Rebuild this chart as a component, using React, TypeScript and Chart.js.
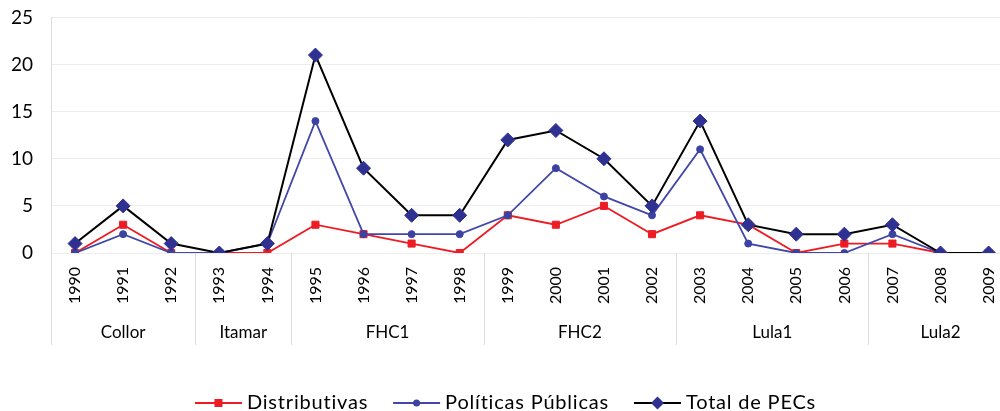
import React, { useEffect, useRef } from "react";
import { Chart, registerables } from "chart.js";

Chart.register(...registerables);

const years = [
  "1990", "1991", "1992", "1993", "1994", "1995", "1996", "1997", "1998", "1999",
  "2000", "2001", "2002", "2003", "2004", "2005", "2006", "2007", "2008", "2009",
];
const distributivas = [0, 3, 0, 0, 0, 3, 2, 1, 0, 4, 3, 5, 2, 4, 3, 0, 1, 1, 0, 0];
const politicasPublicas = [0, 2, 0, 0, 1, 14, 2, 2, 2, 4, 9, 6, 4, 11, 1, 0, 0, 2, 0, 0];
const totalPECs = [1, 5, 1, 0, 1, 21, 9, 4, 4, 12, 13, 10, 5, 14, 3, 2, 2, 3, 0, 0];
const governments = ["Collor", "Itamar", "FHC1", "FHC2", "Lula1", "Lula2"];
const governmentSpans = [3, 2, 4, 4, 4, 3];
const yTicks = [0, 5, 10, 15, 20, 25];

const FONT = "Lato";
const RED = "#ED1C24";
const BLUE = "#4148A8";
const BLUE_MARK = "#3A42A2";
const NAVY = "#2E3192";
const GRID = "#EDEDED";
const SEP = "#DCDCDC";
const CANVAS_W = 1022;
const SHIFT = 12;
const CANVAS_H = 411 + SHIFT;

const groupPlugin = {
  id: "groupPlugin",
  afterDraw(chart: any) {
    const ctx = chart.ctx;
    const x = chart.scales.x;
    const area = chart.chartArea;
    const bottomY = 345 + SHIFT;
    ctx.save();
    ctx.strokeStyle = SEP;
    ctx.lineWidth = 1;
    ctx.beginPath();
    ctx.moveTo(Math.round(area.left) + 0.5, area.top);
    ctx.lineTo(Math.round(area.left) + 0.5, bottomY);
    ctx.stroke();
    let idx = 0;
    ctx.font = `17px ${FONT}`;
    ctx.fillStyle = "#000";
    ctx.textAlign = "center";
    ctx.textBaseline = "middle";
    governments.forEach((g, gi) => {
      const first = idx;
      const last = idx + governmentSpans[gi] - 1;
      const cx = (x.getPixelForValue(first) + x.getPixelForValue(last)) / 2;
      ctx.fillText(g, cx, 333 + SHIFT);
      if (gi < governments.length - 1) {
        const sx = (x.getPixelForValue(last) + x.getPixelForValue(last + 1)) / 2;
        ctx.beginPath();
        ctx.moveTo(Math.round(sx) + 0.5, area.bottom);
        ctx.lineTo(Math.round(sx) + 0.5, bottomY);
        ctx.stroke();
      }
      idx = last + 1;
    });
    ctx.restore();
  },
};

const legendPlugin = {
  id: "customLegend",
  afterDraw(chart: any) {
    const ctx = chart.ctx;
    const ds = chart.data.datasets;
    const lineLen = 47;
    const textGap = 5;
    const itemGap = 25;
    const y = 403 + SHIFT;
    const centerX = 505.5;
    ctx.save();
    ctx.font = `20px ${FONT}`;
    (ctx as any).letterSpacing = "0.8px";
    const widths = ds.map((d: any) => ctx.measureText(d.label).width);
    const total =
      widths.reduce((a: number, b: number) => a + b, 0) +
      ds.length * (lineLen + textGap) +
      (ds.length - 1) * itemGap;
    let cx = centerX - total / 2;
    ds.forEach((d: any, i: number) => {
      ctx.strokeStyle = d.borderColor;
      ctx.lineWidth = 2;
      ctx.beginPath();
      ctx.moveTo(cx, y);
      ctx.lineTo(cx + lineLen, y);
      ctx.stroke();
      const mx = cx + lineLen / 2;
      ctx.fillStyle = d.pointBackgroundColor;
      if (d.pointStyle === "rect") {
        ctx.fillRect(mx - 4, y - 4, 8, 8);
      } else if (d.pointStyle === "circle") {
        ctx.beginPath();
        ctx.arc(mx, y, 3.5, 0, Math.PI * 2);
        ctx.fill();
      } else {
        ctx.beginPath();
        ctx.moveTo(mx, y - 6.5);
        ctx.lineTo(mx + 6.5, y);
        ctx.lineTo(mx, y + 6.5);
        ctx.lineTo(mx - 6.5, y);
        ctx.closePath();
        ctx.fill();
      }
      ctx.fillStyle = "#000";
      ctx.textAlign = "left";
      ctx.textBaseline = "middle";
      ctx.fillText(d.label, cx + lineLen + textGap, y);
      cx += lineLen + textGap + widths[i] + itemGap;
    });
    ctx.restore();
  },
};

export default function App() {
  const ref = useRef<HTMLCanvasElement | null>(null);
  useEffect(() => {
    document.documentElement.style.overflow = "hidden";
    document.body.style.margin = "0";
    document.body.style.overflow = "hidden";
    if (!ref.current) return;
    const chart = new Chart(ref.current, {
      type: "line",
      data: {
        labels: years,
        datasets: [
          {
            label: "Distributivas",
            data: distributivas,
            borderColor: RED,
            backgroundColor: RED,
            pointBackgroundColor: RED,
            pointBorderColor: RED,
            pointStyle: "rect",
            pointRadius: 5,
            pointBorderWidth: 1,
            borderWidth: 1.8,
            tension: 0,
            order: 2,
          },
          {
            label: "Políticas Públicas",
            data: politicasPublicas,
            borderColor: BLUE,
            backgroundColor: BLUE_MARK,
            pointBackgroundColor: BLUE_MARK,
            pointBorderColor: BLUE_MARK,
            pointStyle: "circle",
            pointRadius: 3.5,
            pointBorderWidth: 1,
            borderWidth: 1.8,
            tension: 0,
            order: 1,
          },
          {
            label: "Total de PECs",
            data: totalPECs,
            borderColor: "#000000",
            backgroundColor: NAVY,
            pointBackgroundColor: NAVY,
            pointBorderColor: NAVY,
            pointStyle: "rectRot",
            pointRadius: 7,
            pointBorderWidth: 1,
            borderWidth: 2,
            tension: 0,
            order: 0,
          },
        ] as any,
      },
      options: {
        animation: false,
        responsive: false,
        events: [],
        layout: { padding: { top: 6.5, left: 0, right: 0, bottom: 0 } },
        plugins: {
          legend: { display: false },
          tooltip: { enabled: false },
        },
        scales: {
          x: {
            type: "category",
            offset: true,
            grid: { display: false, drawTicks: false },
            border: { display: true, color: GRID, width: 1 },
            ticks: {
              autoSkip: false,
              minRotation: 90,
              maxRotation: 90,
              padding: 14,
              color: "#000",
              font: { family: FONT, size: 16 },
            },
            afterFit: (scale: any) => {
              scale.height = 158;
            },
          },
          y: {
            min: 0,
            max: 25,
            grid: { color: GRID, drawTicks: false },
            border: { display: true, color: SEP, width: 1 },
            afterBuildTicks: (scale: any) => {
              scale.ticks = yTicks.map((v) => ({ value: v }));
            },
            ticks: {
              padding: 18,
              color: "#000",
              font: { family: FONT, size: 19 },
            },
            afterFit: (scale: any) => {
              scale.width = 51;
            },
          },
        },
      },
      plugins: [groupPlugin, legendPlugin],
    });
    return () => chart.destroy();
  }, []);
  return (
    <div style={{ width: CANVAS_W, height: 411, overflow: "hidden" }}>
      <canvas
        ref={ref}
        width={CANVAS_W}
        height={CANVAS_H}
        style={{ display: "block", marginTop: -SHIFT }}
      />
    </div>
  );
}
